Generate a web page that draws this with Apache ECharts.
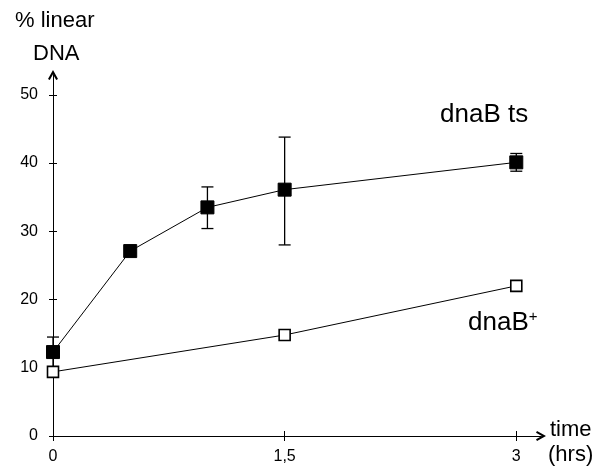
<!DOCTYPE html>
<html><head><meta charset="utf-8">
<script src="https://cdn.jsdelivr.net/npm/echarts@6/dist/echarts.min.js"></script>
<style>html,body{margin:0;padding:0;background:#fff}#c{width:605px;height:467px}</style>
</head><body><div id="c"></div>
<script>
var times = [0, 0.5, 1, 1.5, 3];
var tsValues = [12.3, 27.1, 33.5, 36.1, 40.1];
var tsErrLow = [10.1, 26.8, 30.4, 28.0, 38.8];
var tsErrHigh = [14.5, 27.4, 36.5, 43.8, 41.4];
var plusTimes = [0, 1.5, 3];
var plusValues = [9.4, 14.8, 22.0];
var yTicks = [0, 10, 20, 30, 40, 50];
var xTicks = [0, 1.5, 3];
var xTickLabels = ['0', '1,5', '3'];

var FONT = 'Liberation Sans, Arial, sans-serif';
var CHEVRON = 'path://M5,0 L10,9 L8.2,10 L5,4.2 L1.8,10 L0,9 Z';
var chart = echarts.init(document.getElementById('c'));
var tsData = times.map(function (t, i) { return [t, tsValues[i]]; });
var plusData = plusTimes.map(function (t, i) { return [t, plusValues[i]]; });
var errData = times.map(function (t, i) { return [t, tsErrLow[i], tsErrHigh[i]]; });

function xAx(show) {
  return {
    type: 'value', min: 0, max: 3.16,
    axisLine: { show: show, lineStyle: { color: '#000', width: 1 }, symbol: ['none', CHEVRON], symbolSize: [10, 11] },
    axisTick: { show: true, inside: !show, length: 5, customValues: xTicks, lineStyle: { color: '#000' } },
    axisLabel: { show: show, customValues: xTicks, margin: 13, color: '#000', fontSize: 16, fontFamily: 'Liberation Sans',
      formatter: function (v) { var i = xTicks.indexOf(v); return i >= 0 ? xTickLabels[i] : ''; } },
    splitLine: { show: false }
  };
}
function yAx(show) {
  return {
    type: 'value', min: 0, max: 52.9,
    axisLine: { show: show, lineStyle: { color: '#000', width: 1 }, symbol: ['none', CHEVRON], symbolSize: [10, 11] },
    axisTick: { show: true, inside: !show, length: 4, customValues: yTicks, lineStyle: { color: '#000' } },
    axisLabel: { show: show, customValues: yTicks, margin: 15, color: '#000', fontSize: 16, fontFamily: 'Liberation Sans',
      padding: [0, 0, 6, 0] },
    splitLine: { show: false }
  };
}

chart.setOption({
  animation: false,
  backgroundColor: '#fff',
  grid: { left: 53, right: 605 - 541, top: 75, bottom: 467 - 436, containLabel: false },
  xAxis: [xAx(true), Object.assign(xAx(false), { position: 'bottom' })],
  yAxis: [yAx(true), Object.assign(yAx(false), { position: 'left' })],
  graphic: [
    { type: 'text', left: 15, top: 10, style: { text: '% linear', font: '22px ' + FONT, fill: '#000' } },
    { type: 'text', left: 33, top: 43, style: { text: 'DNA', font: '22px ' + FONT, fill: '#000' } },
    { type: 'text', left: 550, top: 419, style: { text: 'time', font: '22px ' + FONT, fill: '#000' } },
    { type: 'text', left: 548, top: 444, style: { text: '(hrs)', font: '22px ' + FONT, fill: '#000' } },
    { type: 'text', left: 440, top: 102, style: { text: 'dnaB ts', font: '26px ' + FONT, fill: '#000' } },
    { type: 'text', left: 468, top: 309, style: { text: '{a|dnaB}{b|+}', rich: { a: { font: '26px ' + FONT, fill: '#000' }, b: { font: '15px ' + FONT, fill: '#000', verticalAlign: 'top', padding: [0, 0, 12, 0] } } } }
  ],
  series: [
    {
      type: 'custom', name: 'err', z: 3,
      data: errData,
      renderItem: function (params, api) {
        var lo = api.coord([api.value(0), api.value(1)]);
        var hi = api.coord([api.value(0), api.value(2)]);
        var w = 6;
        var st = { stroke: '#000', lineWidth: 1.3 };
        return { type: 'group', children: [
          { type: 'line', shape: { x1: lo[0], y1: lo[1], x2: hi[0], y2: hi[1] }, style: st },
          { type: 'line', shape: { x1: lo[0] - w, y1: lo[1], x2: lo[0] + w, y2: lo[1] }, style: st },
          { type: 'line', shape: { x1: hi[0] - w, y1: hi[1], x2: hi[0] + w, y2: hi[1] }, style: st }
        ] };
      }
    },
    {
      type: 'line', name: 'dnaB ts', data: tsData, z: 4,
      symbol: 'rect', symbolSize: 13,
      lineStyle: { color: '#000', width: 1 },
      itemStyle: { color: '#000', borderColor: '#000' }
    },
    {
      type: 'line', name: 'dnaB+', data: plusData, z: 4,
      symbol: 'rect', symbolSize: 11,
      lineStyle: { color: '#000', width: 1 },
      itemStyle: { color: '#fff', borderColor: '#000', borderWidth: 1.6 }
    }
  ]
});
</script></body></html>
